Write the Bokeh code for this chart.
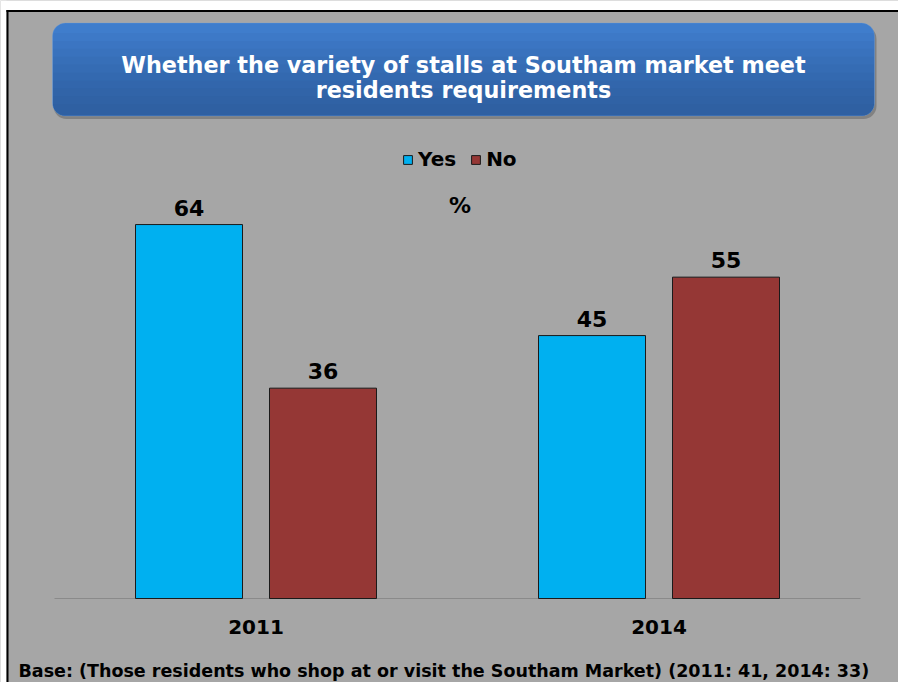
from bokeh.plotting import figure
from bokeh.models import (Range1d, ColumnDataSource, Label, LabelSet,
                          BoxAnnotation, Legend, LegendItem)
from bokeh.transform import dodge
from bokeh.core.properties import value
from bokeh.embed import file_html
from bokeh.resources import INLINE

# ---------------- data ----------------
years = ["2011", "2014"]
series = ["Yes", "No"]
yes_values = [64, 45]
no_values = [36, 55]
title_lines = ["Whether the variety of stalls at Southam market meet",
               "residents requirements"]
unit_text = "%"
footer_text = ("Base: (Those residents who shop at or visit the Southam Market) "
               "(2011: 41, 2014: 33)")

# ---------------- layout / style constants ----------------
FONT = "DejaVu Sans"
BG = "#a6a6a6"
YES_COLOR = "#00b0f0"
NO_COLOR = "#953735"
W, H = 898, 682
Y_MAX = 70            # value-axis maximum of the plot area
PX0 = 255.5           # pixel x of first category centre
PXC = 403.0           # pixels per category
BASE = 598.0          # pixel y of value 0
PXU = (598.0 - 189.0) / Y_MAX   # pixels per value unit


def dx(px):
    return (px - PX0) / PXC


def dy(py):
    return (BASE - py) / PXU


p = figure(width=W, height=H,
           x_range=Range1d(dx(0), dx(W)), y_range=Range1d(dy(H), dy(0)),
           output_backend="svg", toolbar_location=None, min_border=0)
p.background_fill_color = BG
p.border_fill_color = BG
p.outline_line_color = None
p.xaxis.visible = False
p.yaxis.visible = False
p.xgrid.visible = False
p.ygrid.visible = False


def box(l, r, t, b, **kw):
    return BoxAnnotation(left=dx(l), right=dx(r), top=dy(t), bottom=dy(b),
                         level="underlay", **kw)


# page edge (white) and black frame border, top and left
p.add_layout(box(0, W, 0, 9.5, fill_color="white", fill_alpha=1, line_color=None))
p.add_layout(box(0, 6, 0, H, fill_color="white", fill_alpha=1, line_color=None))
p.add_layout(box(6, W, 9.5, 11.5, fill_color="black", fill_alpha=1, line_color=None))
p.add_layout(box(6, 8, 9.5, H, fill_color="black", fill_alpha=1, line_color=None))

# title box: shadow, base, gradient overlays
TL, TR, TT, TB = 52, 874, 22.5, 115.5
p.add_layout(box(TL + 1, TR + 2, TT + 3, TB + 3, fill_color="#6a6a6a", fill_alpha=0.6,
                 line_color=None, border_radius=13))
p.add_layout(box(TL, TR, TT, TB, fill_color="#3f7dcc", fill_alpha=1,
                 line_color="#6a9ee0", line_width=1, border_radius=13))
steps = 10
for i in range(steps):
    t = TT + 10 + i * (TB - TT - 14) / steps
    p.add_layout(box(TL + 0.5, TR - 0.5, t, TB - 0.5, fill_color="#21497f", fill_alpha=0.06,
                     line_color=None, border_radius=(0, 0, 12, 12)))

for txt, base_y in zip(title_lines, (64.0, 89.5)):
    p.add_layout(Label(x=dx(463), y=dy(base_y), text=txt,
                       text_align="center", text_baseline="alphabetic",
                       text_font=FONT, text_font_style="bold", text_font_size="22.3px",
                       text_color="white"))

# ---------------- bars ----------------
idx = list(range(len(years)))
src = ColumnDataSource(dict(
    idx=idx, year=years, yes=yes_values, no=no_values,
    yes_lbl=[str(v) for v in yes_values],
    no_lbl=[str(v) for v in no_values],
))

OFF = 67.0 / PXC
BW = 107.0 / PXC

# category baseline
p.segment(x0=[-0.5], x1=[len(years) - 0.5], y0=[0], y1=[0],
          line_color="#8a8a8a", line_width=1)

r_yes = p.vbar(x=dodge("idx", -OFF), top="yes", width=BW, source=src,
               fill_color=YES_COLOR, line_color="#1a1a1a", line_width=1)
r_no = p.vbar(x=dodge("idx", OFF), top="no", width=BW, source=src,
              fill_color=NO_COLOR, line_color="#1a1a1a", line_width=1)

for col, lbl, off in (("yes", "yes_lbl", -OFF), ("no", "no_lbl", OFF)):
    p.add_layout(LabelSet(x=dodge("idx", off), y=col, text=lbl, source=src,
                          y_offset=9, text_align="center", text_baseline="alphabetic",
                          text_font=value(FONT), text_font_style="bold",
                          text_font_size="22px", text_color="black"))

# category labels
p.add_layout(LabelSet(x="idx", y=dy(633.5), text="year", source=src,
                      text_align="center", text_baseline="alphabetic",
                      text_font=value(FONT), text_font_style="bold",
                      text_font_size="20px", text_color="black"))

# legend
legend = Legend(items=[LegendItem(label=series[0], renderers=[r_yes]),
                       LegendItem(label=series[1], renderers=[r_no])],
                orientation="horizontal", location=(402, H - 171),
                padding=0, margin=0, spacing=14, label_standoff=5,
                glyph_width=11, glyph_height=11,
                border_line_color=None, background_fill_alpha=0,
                label_text_font=FONT, label_text_font_style="bold",
                label_text_font_size="20px", label_text_color="black")
p.add_layout(legend)

p.add_layout(Label(x=dx(459.5), y=dy(205), text=unit_text,
                   text_align="center", text_baseline="middle",
                   text_font=FONT, text_font_style="bold", text_font_size="22px",
                   text_color="black"))

p.add_layout(Label(x=dx(18), y=dy(670.5), text=footer_text,
                   text_align="left", text_baseline="alphabetic",
                   text_font=FONT, text_font_style="bold", text_font_size="17.5px",
                   text_color="black"))

open("out.html", "w").write(file_html(p, INLINE))
